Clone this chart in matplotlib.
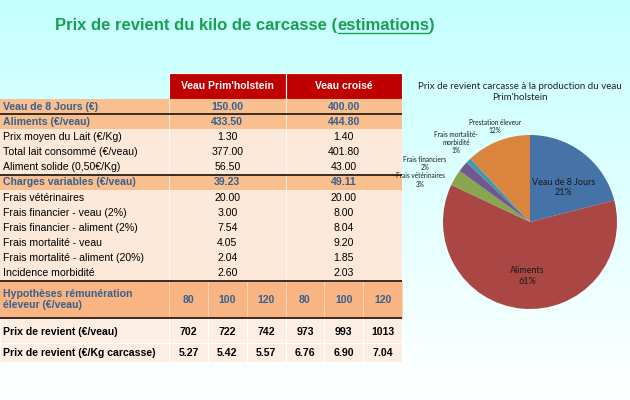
import numpy as np
import matplotlib.pyplot as plt
from matplotlib.patches import Rectangle

# ---- table data ----
row_labels = ["Veau de 8 Jours (€)", "Aliments (€/veau)", "Prix moyen du Lait (€/Kg)",
              "Total lait consommé (€/veau)", "Aliment solide (0,50€/Kg)",
              "Charges variables (€/veau)", "Frais vétérinaires",
              "Frais financier - veau (2%)", "Frais financier - aliment (2%)",
              "Frais mortalité - veau", "Frais mortalité - aliment (20%)",
              "Incidence morbidité"]
holstein = [150.00, 433.50, 1.30, 377.00, 56.50, 39.23, 20.00, 3.00, 7.54, 4.05, 2.04, 2.60]
croise = [400.00, 444.80, 1.40, 401.80, 43.00, 49.11, 20.00, 8.00, 8.04, 9.20, 1.85, 2.03]
subtotal_rows = [0, 1, 5]
breeds = ["Veau Prim'holstein", "Veau croisé"]
remuneration = [80, 100, 120, 80, 100, 120]
cost_per_calf = [702, 722, 742, 973, 993, 1013]
cost_per_kg = [5.27, 5.42, 5.57, 6.76, 6.90, 7.04]

# ---- pie data ----
pie_labels = ["Veau de 8 Jours", "Aliments", "Frais vétérinaires", "Frais financiers",
              "Frais mortalité-\nmorbidité", "Prestation éleveur"]
pie_share = [21, 61, 3, 2, 1, 12]
pie_colors = ["#4572A7", "#AA4643", "#89A54E", "#71588F", "#4198AF", "#DB843D"]

RED = "#c00000"
ORANGE = "#fabf8f"
ORANGE2 = "#f8b482"
PEACH = "#fde9d9"
PEACH2 = "#fdeee3"
BLUE = "#376091"
LINE = "#3b2b22"
GREEN = "#17a04e"
FONT = "Liberation Sans"

fig = plt.figure(figsize=(6.3, 4.0), dpi=100)
ax = fig.add_axes([0, 0, 1, 1])
ax.set_xlim(0, 630)
ax.set_ylim(400, 0)
ax.axis("off")

# background gradient, light cyan to white
t = np.linspace(0, 1, 200)[:, None, None]
top = np.array([0.77, 1.0, 1.0])
grad = top * (1 - t) + np.ones(3) * t
ax.imshow(grad, extent=(0, 630, 400, 0), aspect="auto", zorder=0)

# title with underlined word
parts = ["Prix de revient du kilo de carcasse (", "estimations", ")"]
fig.canvas.draw()
renderer = fig.canvas.get_renderer()
x = 55
inv = ax.transData.inverted()
for i, p in enumerate(parts):
    txt = ax.text(x, 30, p, fontsize=12, fontweight="bold", color=GREEN,
                  family=FONT, va="baseline", ha="left")
    bb = txt.get_window_extent(renderer)
    (x0, _), (x1, _) = inv.transform([[bb.x0, bb.y0], [bb.x1, bb.y1]])
    if i == 1:
        ax.plot([x0 + 0.5, x1 - 0.5], [32.5, 32.5], color=GREEN, lw=1.0)
    x = x1

# ---- table geometry (pixels) ----
xl, xa, xb, xr = 0, 169, 285.5, 402
sub_edges = np.linspace(xa, xr, 7)
head_top, body_top, row_h = 73, 99, 15.17


def cell(x0, x1, y0, y1, color, edge="none", lw=0.0):
    ax.add_patch(Rectangle((x0, y0), x1 - x0, y1 - y0, facecolor=color,
                           edgecolor=edge, linewidth=lw, zorder=1))


# header
for (c0, c1), name in zip([(xa, xb), (xb, xr)], breeds):
    cell(c0, c1, head_top, body_top, RED, "white", 0.8)
    ax.text((c0 + c1) / 2, (head_top + body_top) / 2, name, color="white",
            fontsize=7.5, fontweight="bold", family=FONT, ha="center", va="center", zorder=3)

# body rows
for i, (lab, h, c) in enumerate(zip(row_labels, holstein, croise)):
    y0 = body_top + i * row_h
    y1 = y0 + row_h
    sub = i in subtotal_rows
    cell(xl, xr, y0, y1, ORANGE if sub else PEACH)
    col = BLUE if sub else "black"
    w = "bold" if sub else "normal"
    yc = (y0 + y1) / 2
    ax.text(xl + 3, yc, lab, color=col, fontweight=w, fontsize=7.6, family=FONT,
            ha="left", va="center", zorder=3)
    ax.text((xa + xb) / 2, yc, f"{h:.2f}", color=col, fontweight=w, fontsize=7.6,
            family=FONT, ha="center", va="center", zorder=3)
    ax.text((xb + xr) / 2, yc, f"{c:.2f}", color=col, fontweight=w, fontsize=7.6,
            family=FONT, ha="center", va="center", zorder=3)
body_bot = body_top + len(row_labels) * row_h
ax.vlines([xa, xb], body_top, body_bot, color="white", lw=0.6, alpha=0.8, zorder=2)

# remuneration row
hyp_top, hyp_bot = body_bot, 318
cell(xl, xa, hyp_top, hyp_bot, ORANGE2)
ax.text(xl + 3, (hyp_top + hyp_bot) / 2, "Hypothèses rémunération\néleveur (€/veau)",
        color=BLUE, fontweight="bold", fontsize=7.6, family=FONT, ha="left",
        va="center", linespacing=1.15, zorder=3)
for j, v in enumerate(remuneration):
    cell(sub_edges[j], sub_edges[j + 1], hyp_top, hyp_bot, ORANGE2, "#fcd3b5", 0.8)
    ax.text((sub_edges[j] + sub_edges[j + 1]) / 2, (hyp_top + hyp_bot) / 2, str(v),
            color=BLUE, fontweight="bold", fontsize=7.6, family=FONT,
            ha="center", va="center", zorder=3)

# cost rows
cost_rows = [("Prix de revient (€/veau)", [str(v) for v in cost_per_calf], 318, 343),
             ("Prix de revient (€/Kg carcasse)", [f"{v:.2f}" for v in cost_per_kg], 343, 362)]
for lab, vals, y0, y1 in cost_rows:
    cell(xl, xa, y0, y1, PEACH2, "white", 0.6)
    yc = (y0 + y1) / 2 + (1.5 if y0 == 318 else 0)
    ax.text(xl + 3, yc, lab, fontweight="bold", fontsize=7.6, family=FONT,
            ha="left", va="center", zorder=3)
    for j, v in enumerate(vals):
        cell(sub_edges[j], sub_edges[j + 1], y0, y1, PEACH2, "white", 0.8)
        ax.text((sub_edges[j] + sub_edges[j + 1]) / 2, yc, v, fontweight="bold",
                fontsize=7.6, family=FONT, ha="center", va="center", zorder=3)

# dark separator lines
ax.hlines([body_top + row_h, body_top + 5 * row_h, hyp_top, hyp_bot], xl, xr,
          color=LINE, lw=1.4, zorder=4)

# ---- pie chart ----
cx, cy, R = 530, 222, 87
pax = fig.add_axes([(cx - R) / 630, (400 - cy - R) / 400, 2 * R / 630, 2 * R / 400])
wedges, _ = pax.pie(pie_share, colors=pie_colors, startangle=90, counterclock=False,
                    radius=1, wedgeprops=dict(linewidth=0))
pax.set_xlim(-1, 1)
pax.set_ylim(-1, 1)
pax.axis("off")

ax.text(520, 92, "Prix de revient carcasse à la production du veau\nPrim'holstein",
        fontsize=7, family="Lato", ha="center", va="center", color="#222222",
        linespacing=1.3, zorder=3)

# label placement: (angle in degrees, distance from centre in radii)
label_pos = [(46, 0.55), (-93, 0.62), (159, 1.35), (151, 1.38), (133, 1.25), (110, 1.17)]
for lab, share, (ang, r) in zip(pie_labels, pie_share, label_pos):
    big = share > 10 and lab != "Prestation éleveur"
    a = np.deg2rad(ang)
    pax.text(r * np.cos(a), r * np.sin(a), f"{lab}\n{share}%", ha="center", va="center",
             fontsize=6.5 if big else 4.7, family="Lato", color="#1a1a1a",
             linespacing=1.2, clip_on=False)

fig.savefig("out.png", dpi=100)
